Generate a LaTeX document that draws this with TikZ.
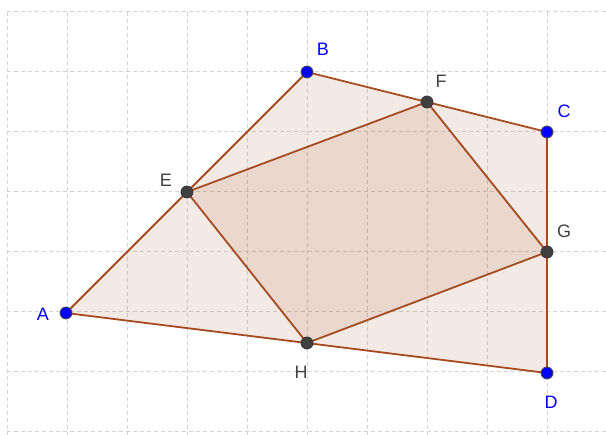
\documentclass[tikz,border=0pt]{standalone}
\usepackage{fontspec}
\setmainfont{Liberation Sans}
\definecolor{edge}{RGB}{165,75,30}
\definecolor{fillc}{RGB}{153,51,0}
\definecolor{gridc}{RGB}{212,212,212}
\definecolor{ptblue}{RGB}{0,0,255}
\definecolor{ptdark}{RGB}{64,64,64}
\definecolor{labdark}{RGB}{64,64,64}
\begin{document}
\begin{tikzpicture}[x=1pt,y=-1pt,
  gridline/.style={gridc,line width=1pt,dash pattern=on 4pt off 3pt},
  polyfill/.style={fill=fillc,fill opacity=0.1},
  polyedge/.style={edge,line width=1.8pt,line join=round},
  bluept/.style={circle,fill=ptblue,draw=black!70,line width=0.8pt,minimum size=12pt,inner sep=0pt},
  darkpt/.style={circle,fill=ptdark,draw=black!80,line width=0.8pt,minimum size=12pt,inner sep=0pt},
  bluelab/.style={text=ptblue,font=\fontsize{18}{18}\selectfont,inner sep=0pt},
  darklab/.style={text=labdark,font=\fontsize{18}{18}\selectfont,inner sep=0pt}]
\useasboundingbox (0,0) rectangle (606,435);
\fill[white] (0,0) rectangle (606,435);
% grid
\foreach \i in {0,...,9} \draw[gridline] (7+60*\i,12) -- (7+60*\i,435);
\foreach \j in {0,...,7} \draw[gridline] (7,12+60*\j) -- (606,12+60*\j);
% coordinates
\coordinate (A) at (66,313);
\coordinate (B) at (307,72);
\coordinate (C) at (547,132);
\coordinate (D) at (547,373);
\coordinate (E) at (187,192);
\coordinate (F) at (427,102);
\coordinate (G) at (547,252);
\coordinate (H) at (307,343);
% fills
\fill[polyfill] (A) -- (B) -- (C) -- (D) -- cycle;
\fill[polyfill] (E) -- (F) -- (G) -- (H) -- cycle;
% edges
\draw[polyedge] (A) -- (B) -- (C) -- (D) -- cycle;
\draw[polyedge] (E) -- (F) -- (G) -- (H) -- cycle;
% points
\node[bluept] (pA) at (A) {};
\node[bluept] (pB) at (B) {};
\node[bluept] (pC) at (C) {};
\node[bluept] (pD) at (D) {};
\node[darkpt] (pE) at (E) {};
\node[darkpt] (pF) at (F) {};
\node[darkpt] (pG) at (G) {};
\node[darkpt] (pH) at (H) {};
% labels
\node[bluelab] (lA) at (43,314) {A};
\node[bluelab] (lB) at (323,49) {B};
\node[bluelab] (lC) at (564,111) {C};
\node[bluelab] (lD) at (551,402) {D};
\node[darklab] (lE) at (166,180) {E};
\node[darklab] (lF) at (441,81) {F};
\node[darklab] (lG) at (564,231) {G};
\node[darklab] (lH) at (301,372) {H};
\end{tikzpicture}
\end{document}
